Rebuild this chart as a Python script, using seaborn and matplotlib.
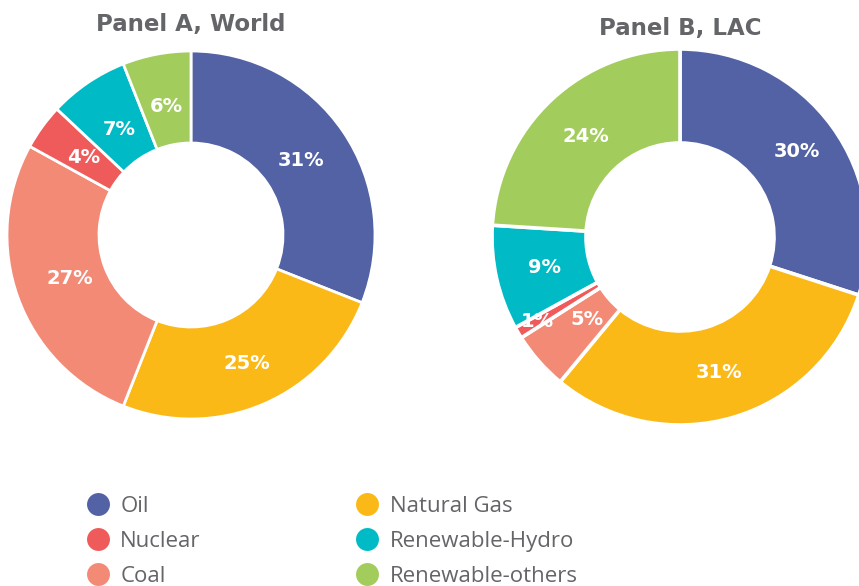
import matplotlib
matplotlib.use("Agg")
import matplotlib.pyplot as plt
from matplotlib.lines import Line2D
import numpy as np
import seaborn as sns

# Energy mix shares (%), clockwise from 12 o'clock
sources = ["Oil", "Natural Gas", "Coal", "Nuclear", "Renewable-Hydro", "Renewable-others"]
world_share = [31, 25, 27, 4, 7, 6]
lac_share = [30, 31, 5, 1, 9, 24]

source_colors = {
    "Oil": "#5262A4",
    "Natural Gas": "#FBB917",
    "Coal": "#F38A76",
    "Nuclear": "#EF5B5B",
    "Renewable-Hydro": "#00BAC6",
    "Renewable-others": "#A2CC5C",
}

sns.set_theme(style="white")
plt.rcParams["font.family"] = ["DejaVu Sans"]

W, H = 859, 586
fig = plt.figure(figsize=(W / 100, H / 100), dpi=100)
fig.patch.set_facecolor("white")

palette = sns.color_palette([source_colors[s] for s in sources])
GREY = "#646569"


def donut(cx, cy, r, shares, title, title_y, edge_lw, label_r):
    ax = fig.add_axes([(cx - r) / W, (H - cy - r) / H, 2 * r / W, 2 * r / H])
    wedges, _ = ax.pie(
        shares, colors=palette, startangle=90, counterclock=False, radius=1.0,
        wedgeprops=dict(width=0.5, edgecolor="white", linewidth=edge_lw),
    )
    for w, v, lr in zip(wedges, shares, label_r):
        ang = np.deg2rad((w.theta1 + w.theta2) / 2)
        ax.text(lr * np.cos(ang), lr * np.sin(ang), f"{v}%", ha="center", va="center",
                color="white", fontsize=14, fontweight="bold", family="DejaVu Sans")
    ax.set_xlim(-1, 1)
    ax.set_ylim(-1, 1)
    ax.set_aspect("equal")
    ax.axis("off")
    fig.text(cx / W, 1 - title_y / H, title, ha="center", va="center",
             fontsize=16.5, fontweight="bold", color=GREY, family="DejaVu Sans")


donut(191, 235, 184, world_share, "Panel A, World", 24,
      2.0, [0.72, 0.76, 0.70, 0.72, 0.69, 0.71])
donut(680, 237, 188, lac_share, "Panel B, LAC", 28,
      2.6, [0.77, 0.75, 0.66, 0.88, 0.74, 0.73])

# Legend: two columns, filled column by column
order = ["Oil", "Nuclear", "Coal", "Natural Gas", "Renewable-Hydro", "Renewable-others"]
handles = [Line2D([], [], marker="o", linestyle="", markersize=16.5,
                  markerfacecolor=source_colors[s], markeredgecolor="none") for s in order]
leg = fig.legend(handles, order, loc="upper left", bbox_to_anchor=(87 / W, 1 - 496 / H),
                 ncol=2, frameon=False, handlelength=1.0, handletextpad=0.5,
                 columnspacing=7.0, labelspacing=0.62, borderaxespad=0, borderpad=0,
                 prop={"family": "Open Sans", "size": 16})
for t in leg.get_texts():
    t.set_color(GREY)

fig.savefig("out.png", dpi=100, facecolor="white")
